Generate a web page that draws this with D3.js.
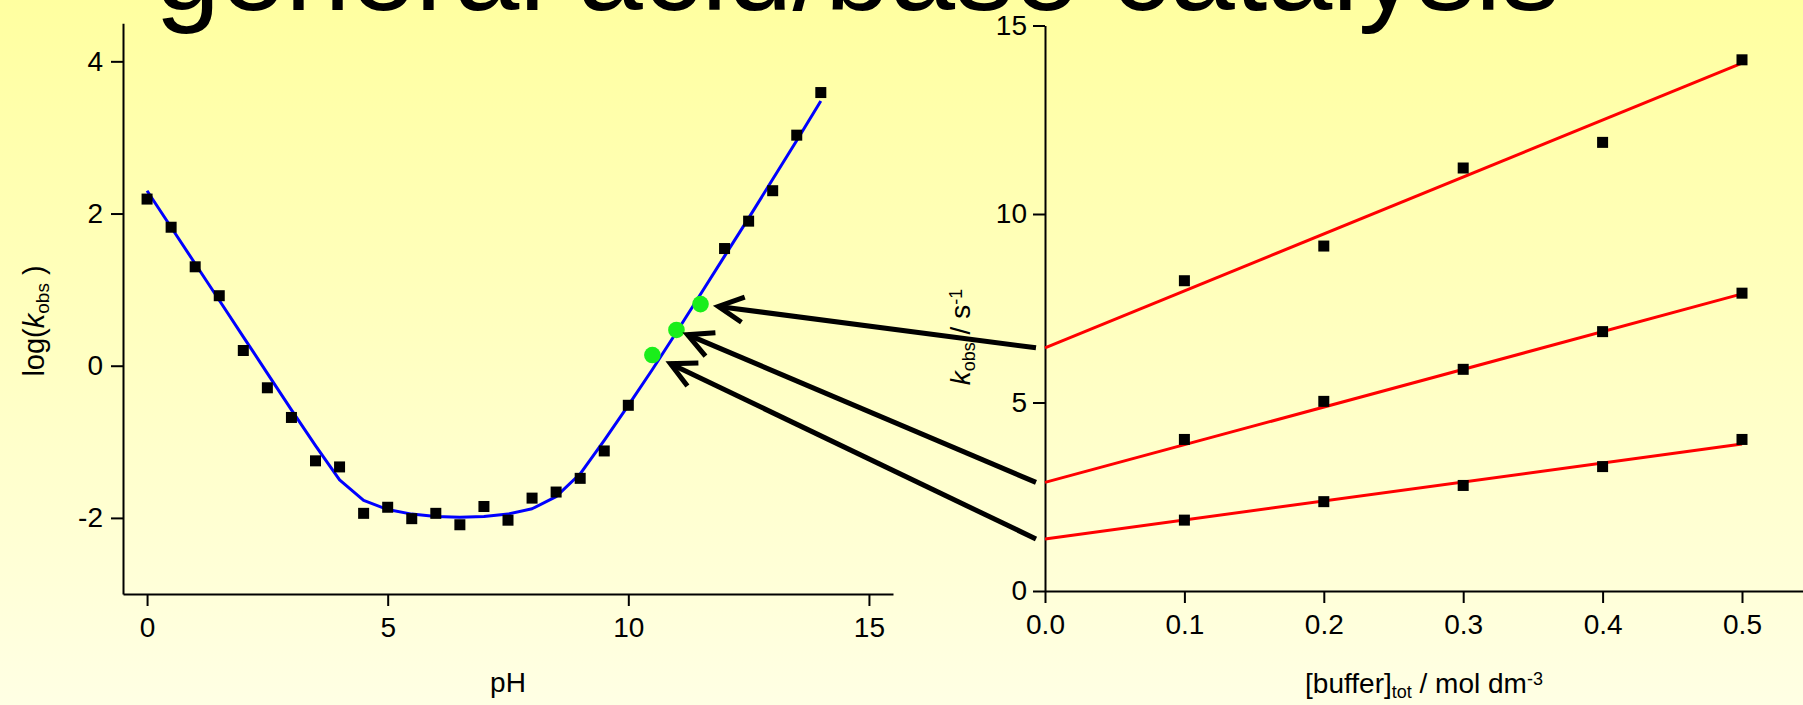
<!DOCTYPE html>
<html>
<head>
<meta charset="utf-8">
<script src="https://cdn.jsdelivr.net/npm/d3@7"></script>
<style>
  html, body { margin: 0; padding: 0; background: #ffffe4; }
  svg { display: block; }
  text { font-family: "Liberation Sans", Arial, sans-serif; fill: #000; }
</style>
</head>
<body>
<div id="chart"></div>
<script>
// left panel: pH rate profile
let phValues = [0, 0.5, 1, 1.5, 2, 2.5, 3, 3.5, 4, 4.5, 5, 5.5, 6, 6.5, 7, 7.5, 8, 8.5, 9, 9.5, 10, 12, 12.5, 13, 13.5, 14];
let logKobs = [2.19, 1.82, 1.30, 0.92, 0.20, -0.29, -0.68, -1.25, -1.33, -1.94, -1.86, -2.01, -1.94, -2.09, -1.85, -2.03, -1.74, -1.66, -1.48, -1.12, -0.52, 1.54, 1.90, 2.30, 3.03, 3.59];
let fitPH = [0, 0.5, 1, 1.5, 2, 2.5, 3, 3.5, 4, 4.5, 5, 5.5, 6, 6.5, 7, 7.5, 8, 8.5, 9, 9.5, 10, 10.5, 11, 11.5, 12, 12.5, 13, 13.5, 14];
let fitLog = [2.30, 1.82, 1.34, 0.86, 0.38, -0.10, -0.58, -1.05, -1.50, -1.77, -1.89, -1.95, -1.98, -1.99, -1.98, -1.95, -1.88, -1.72, -1.42, -0.98, -0.52, -0.05, 0.44, 0.94, 1.44, 1.94, 2.45, 2.96, 3.48];
let greenPH = [11.5, 11, 10.5];
let greenLog = [0.81, 0.47, 0.14];
let phTicks = [0, 5, 10, 15];
let phMinorTicks = [2.5, 7.5, 12.5];
let logTicks = [-2, 0, 2, 4];
let logMinorTicks = [-3, -1, 1, 3];

// right panel: kobs vs buffer concentration
let bufferConc = [0.1, 0.2, 0.3, 0.4, 0.5];
let kobsHigh = [8.23, 9.15, 11.22, 11.90, 14.09];
let kobsMid = [4.02, 5.03, 5.88, 6.88, 7.90];
let kobsLow = [1.88, 2.37, 2.80, 3.30, 4.02];
let fitBuffer = [0, 0.5];
let fitHigh = [6.45, 14.0];
let fitMid = [2.88, 7.88];
let fitLow = [1.38, 3.90];
let bufferTicks = [0, 0.1, 0.2, 0.3, 0.4, 0.5];
let bufferMinorTicks = [0.05, 0.15, 0.25, 0.35, 0.45, 0.55];
let kobsTicks = [0, 5, 10, 15];
let kobsMinorTicks = [2.5, 7.5, 12.5];

let titleText = "general acid/base catalysis";

let width = 1803, height = 705;
let fontSize = 28;

let svg = d3.select("#chart").append("svg")
        .attr("width", width)
        .attr("height", height);

let grad = svg.append("defs").append("linearGradient")
        .attr("id", "bg")
        .attr("x1", 0).attr("y1", 0)
        .attr("x2", 0).attr("y2", 1);
grad.append("stop").attr("offset", "0%").attr("stop-color", "#ffffa0");
grad.append("stop").attr("offset", "100%").attr("stop-color", "#ffffe4");

svg.append("rect")
        .attr("width", width)
        .attr("height", height)
        .attr("fill", "url(#bg)");

svg.append("text")
        .attr("x", 155)
        .attr("y", 10)
        .style("font-size", "117px")
        .text(titleText);

let xL = d3.scaleLinear().domain([-0.5, 15.5]).range([123, 893]);
let yL = d3.scaleLinear().domain([-3, 4.5]).range([594, 23.3]);
let xR = d3.scaleLinear().domain([0, 0.55]).range([1045, 1045 + 0.55 * 1394]);
let yR = d3.scaleLinear().domain([0, 15]).range([591, 25.5]);

//draws one axis with major and minor ticks
function drawAxis(axisFn, scale, major, minor, fmt, transform, padding) {
  let g = svg.append("g").attr("transform", transform);
  g.call(axisFn(scale).tickValues(minor).tickSize(6).tickSizeOuter(0).tickFormat(""));
  g.call(axisFn(scale).tickValues(major).tickSize(12).tickSizeOuter(0).tickPadding(padding).tickFormat(fmt));
  g.selectAll("path, line")
          .attr("stroke", "#000")
          .attr("stroke-width", 2);
  g.selectAll("text")
          .style("font-size", fontSize + "px")
          .style("font-family", "'Liberation Sans', Arial, sans-serif")
          .attr("fill", "#000");
  return g;
}

let intFmt = d3.format("d");
let numFmt = function(d) { return d3.format("d")(d).replace("\u2212", "-"); };

drawAxis(d3.axisBottom, xL, phTicks, phMinorTicks, intFmt, "translate(0," + yL(-3) + ")", 11);
drawAxis(d3.axisLeft, yL, logTicks, logMinorTicks, numFmt, "translate(" + xL(-0.5) + ",0)", 8);
drawAxis(d3.axisBottom, xR, bufferTicks, bufferMinorTicks, d3.format(".1f"), "translate(0," + yR(0) + ")", 11);
drawAxis(d3.axisLeft, yR, kobsTicks, kobsMinorTicks, intFmt, "translate(" + xR(0) + ",0)", 6);

// axis titles
svg.append("text")
        .attr("x", (xL.range()[0] + xL.range()[1]) / 2)
        .attr("y", 692)
        .attr("text-anchor", "middle")
        .style("font-size", fontSize + "px")
        .text("pH");

let bufLabel = svg.append("text")
        .attr("x", 1424)
        .attr("y", 693)
        .attr("text-anchor", "middle")
        .style("font-size", fontSize + "px");
bufLabel.append("tspan").text("[buffer]");
bufLabel.append("tspan").attr("baseline-shift", "-25%").style("font-size", "18px").text("tot");
bufLabel.append("tspan").text(" / mol dm");
bufLabel.append("tspan").attr("baseline-shift", "45%").style("font-size", "18px").text("-3");

let logLabel = svg.append("text")
        .attr("transform", "translate(44,321) rotate(-90)")
        .attr("text-anchor", "middle")
        .style("font-size", "29px");
logLabel.append("tspan").text("log(");
logLabel.append("tspan").style("font-style", "italic").text("k");
logLabel.append("tspan").attr("baseline-shift", "-25%").style("font-size", "19px").text("obs");
logLabel.append("tspan").text(" )");

let kLabel = svg.append("text")
        .attr("transform", "translate(970,337) rotate(-90)")
        .attr("text-anchor", "middle")
        .style("font-size", fontSize + "px");
kLabel.append("tspan").style("font-style", "italic").text("k");
kLabel.append("tspan").attr("baseline-shift", "-25%").style("font-size", "18px").text("obs");
kLabel.append("tspan").text(" / s");
kLabel.append("tspan").attr("baseline-shift", "45%").style("font-size", "18px").text("-1");

// left panel marks
let phLine = d3.line()
        .x(function(d, i) { return xL(fitPH[i]); })
        .y(function(d) { return yL(d); });

svg.append("path")
        .datum(fitLog)
        .attr("fill", "none")
        .attr("stroke", "#0000ff")
        .attr("stroke-width", 3)
        .attr("stroke-linejoin", "round")
        .attr("d", phLine);

let sq = 11;
svg.append("g").selectAll("rect")
        .data(logKobs)
        .enter()
        .append("rect")
        .attr("x", function(d, i) { return xL(phValues[i]) - sq / 2; })
        .attr("y", function(d) { return yL(d) - sq / 2; })
        .attr("width", sq)
        .attr("height", sq)
        .attr("fill", "#000");

svg.append("g").selectAll("circle")
        .data(greenLog)
        .enter()
        .append("circle")
        .attr("cx", function(d, i) { return xL(greenPH[i]); })
        .attr("cy", function(d) { return yL(d); })
        .attr("r", 8.3)
        .attr("fill", "#1aee1a");

// right panel marks
let fits = [fitHigh, fitMid, fitLow];
let series = [kobsHigh, kobsMid, kobsLow];

let bufLine = d3.line()
        .x(function(d, i) { return xR(fitBuffer[i]); })
        .y(function(d) { return yR(d); });

fits.forEach(function(f) {
  svg.append("path")
          .datum(f)
          .attr("fill", "none")
          .attr("stroke", "#ff0000")
          .attr("stroke-width", 3)
          .attr("d", bufLine);
});

series.forEach(function(s) {
  svg.append("g").selectAll("rect")
          .data(s)
          .enter()
          .append("rect")
          .attr("x", function(d, i) { return xR(bufferConc[i]) - sq / 2; })
          .attr("y", function(d) { return yR(d) - sq / 2; })
          .attr("width", sq)
          .attr("height", sq)
          .attr("fill", "#000");
});

// arrows from each intercept back to its green point
let arrowGap = [18, 12, 20];
for (let i = 0; i < 3; i++) {
  let gx = xL(greenPH[i]), gy = yL(greenLog[i]);
  let tx = xR(0) - 9, ty = yR(fits[i][0]);
  let dx = tx - gx, dy = ty - gy;
  let len = Math.sqrt(dx * dx + dy * dy);
  let ux = dx / len, uy = dy / len;
  let px = gx + ux * arrowGap[i], py = gy + uy * arrowGap[i];
  let a = 27 * Math.PI / 180, wl = 28;
  let w1x = px + wl * (ux * Math.cos(a) - uy * Math.sin(a));
  let w1y = py + wl * (ux * Math.sin(a) + uy * Math.cos(a));
  let w2x = px + wl * (ux * Math.cos(-a) - uy * Math.sin(-a));
  let w2y = py + wl * (ux * Math.sin(-a) + uy * Math.cos(-a));
  svg.append("path")
          .attr("d", "M" + tx + "," + ty + "L" + px + "," + py)
          .attr("stroke", "#000")
          .attr("stroke-width", 5)
          .attr("fill", "none");
  svg.append("path")
          .attr("d", "M" + w1x + "," + w1y + "L" + px + "," + py + "L" + w2x + "," + w2y)
          .attr("stroke", "#000")
          .attr("stroke-width", 5)
          .attr("stroke-linejoin", "miter")
          .attr("fill", "none");
}
</script>
</body>
</html>
